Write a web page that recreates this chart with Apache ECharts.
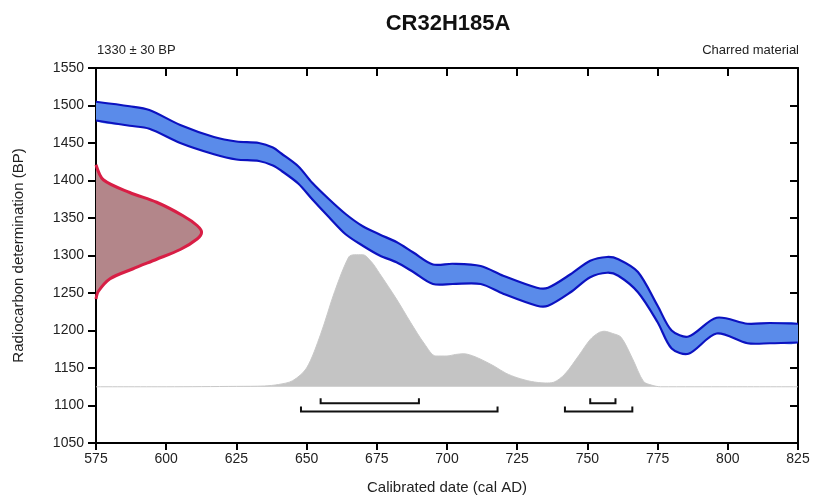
<!DOCTYPE html>
<html>
<head>
<meta charset="utf-8">
<title>CR32H185A</title>
<script src="https://cdn.jsdelivr.net/npm/echarts@6/dist/echarts.min.js"></script>
<style>
  html, body { margin: 0; padding: 0; background: #ffffff; }
  #chart { width: 814px; height: 500px; }
</style>
</head>
<body>
<div id="chart"></div>
<script>
// calibration curve (1 sigma band)
const curveYear = [575, 587, 594, 605, 617, 625, 633, 638, 641, 647, 652, 658, 664, 670, 676, 682, 688, 695, 702, 712, 720, 732, 736, 744, 751, 757, 761, 768, 775, 780, 786, 796, 807, 815, 825];
const curveUpper = [1505, 1499, 1494, 1474, 1458, 1452, 1450, 1444, 1436, 1419, 1397, 1375, 1355, 1339, 1328, 1318, 1304, 1288, 1289, 1286, 1273, 1257, 1257, 1275, 1293, 1298, 1295, 1278, 1233, 1200, 1192, 1217, 1209, 1210, 1209];
const curveLower = [1480, 1473, 1469, 1450, 1435, 1428, 1426, 1420, 1413, 1396, 1375, 1351, 1328, 1313, 1300, 1291, 1278, 1262, 1262, 1262, 1249, 1233, 1233, 1251, 1271, 1277, 1273, 1251, 1211, 1176, 1169, 1196, 1183, 1183, 1184];

// measured date (normal curve on the BP axis)
const measBP = [1421, 1401, 1384, 1371, 1353, 1340, 1331, 1322, 1308, 1295, 1282, 1269, 1252, 1242];
const measYear = [575, 577.6, 587, 596.6, 606, 611, 612.6, 611, 605, 596.6, 588, 580, 575.8, 575];

// calibrated probability (drawn up from a baseline of 1125 BP)
const probBase = 1125;
const probYear = [575, 600, 625, 635, 640, 645, 650, 655, 660, 665, 667, 670, 673, 676, 682, 687, 692, 696, 700, 703, 706, 710, 714, 717, 721, 725, 730, 735, 738, 742, 747, 751, 754, 756, 759, 762, 766, 770, 773, 776, 800, 825];
const probBP = [1125, 1125, 1125.5, 1126, 1128, 1133, 1150, 1195, 1252, 1298, 1301, 1301, 1292, 1276, 1242, 1211, 1182, 1166, 1166, 1168, 1169, 1165, 1158, 1152, 1143, 1137, 1132, 1130, 1131, 1142, 1167, 1188, 1197, 1199, 1196, 1191, 1163, 1132, 1127, 1125, 1125, 1125];

// calibrated ranges (68.2% upper row, 95.4% lower row)
const rangeStart = [655, 751, 648, 742];
const rangeEnd = [690, 760, 718, 766];
const rangeLevel = [1103, 1103, 1092, 1092];

const xTicks = { min: 575, max: 825, step: 25 };
const yTicks = { min: 1050, max: 1550, step: 50 };

const font = "'Liberation Sans', Arial, sans-serif";
const axisBlack = { color: '#000000', width: 2 };

// bounding box of a point list, keeps smoothed control points inside it
function bbox (pts) {
  let xs = pts.map(p => p[0]);
  let ys = pts.map(p => p[1]);
  return [[Math.min(...xs), Math.min(...ys)], [Math.max(...xs), Math.max(...ys)]];
}

let chart = echarts.init(document.getElementById('chart'), null, { renderer: 'canvas' });
chart.setOption({
  animation: false,
  backgroundColor: '#ffffff',
  textStyle: { fontFamily: font },
  graphic: [
    {
      type: 'text', x: 448, y: 24,
      style: { text: 'CR32H185A', font: 'bold 22px ' + font, fill: '#111111',
        align: 'center', verticalAlign: 'middle', textAlign: 'center', textVerticalAlign: 'middle' }
    },
    {
      type: 'text', x: 97, y: 50,
      style: { text: '1330 ± 30 BP', font: '13px ' + font, fill: '#222222',
        align: 'left', verticalAlign: 'middle', textAlign: 'left', textVerticalAlign: 'middle' }
    },
    {
      type: 'text', x: 799, y: 50,
      style: { text: 'Charred material', font: '13px ' + font, fill: '#222222',
        align: 'right', verticalAlign: 'middle', textAlign: 'right', textVerticalAlign: 'middle' }
    }
  ],
  grid: { left: 96, right: 16, top: 68, bottom: 55, containLabel: false },
  xAxis: [
    {
      type: 'value', position: 'bottom',
      min: xTicks.min, max: xTicks.max, interval: xTicks.step,
      name: 'Calibrated date (cal AD)', nameLocation: 'middle', nameGap: 37,
      nameTextStyle: { fontSize: 15, color: '#222222', fontFamily: font },
      axisLine: { lineStyle: axisBlack },
      axisTick: { inside: false, length: 7, lineStyle: axisBlack },
      axisLabel: { fontSize: 14, color: '#222222', margin: 9, fontFamily: font, formatter: v => String(v) },
      splitLine: { show: false }
    },
    {
      type: 'value', position: 'top',
      min: xTicks.min, max: xTicks.max, interval: xTicks.step,
      axisLine: { lineStyle: axisBlack },
      axisTick: { inside: true, length: 8, lineStyle: axisBlack },
      axisLabel: { show: false },
      splitLine: { show: false }
    }
  ],
  yAxis: [
    {
      type: 'value', position: 'left',
      min: yTicks.min, max: yTicks.max, interval: yTicks.step,
      name: 'Radiocarbon determination (BP)', nameLocation: 'middle', nameGap: 70,
      nameTextStyle: { fontSize: 15, color: '#222222', fontFamily: font },
      axisLine: { lineStyle: axisBlack },
      axisTick: { inside: false, length: 8, lineStyle: axisBlack },
      axisLabel: { fontSize: 14, color: '#222222', margin: 12, fontFamily: font, formatter: v => String(v) },
      splitLine: { show: false }
    },
    {
      type: 'value', position: 'right',
      min: yTicks.min, max: yTicks.max, interval: yTicks.step,
      axisLine: { lineStyle: axisBlack },
      axisTick: { inside: true, length: 8, lineStyle: axisBlack },
      axisLabel: { show: false },
      splitLine: { show: false }
    }
  ],
  series: [
    {
      name: 'probability',
      type: 'line',
      showSymbol: false,
      smooth: 0.3,
      lineStyle: { color: '#c8c8c8', width: 1 },
      areaStyle: { color: '#c4c4c4', opacity: 1, origin: probBase },
      data: probYear.map((x, i) => [x, probBP[i]]),
      z: 1
    },
    {
      // calibration band: filled polygon between the two edges, then the edges
      name: 'curve',
      type: 'custom',
      data: curveYear.map((x, i) => [x, curveUpper[i], curveLower[i]]),
      encode: { x: 0, y: [1, 2] },
      z: 2,
      renderItem: function (params, api) {
        if (params.dataIndex !== 0) return null;
        let up = curveYear.map((x, i) => api.coord([x, curveUpper[i]]));
        let low = curveYear.map((x, i) => api.coord([x, curveLower[i]]));
        let ring = up.concat(low.slice().reverse());
        return {
          type: 'group',
          children: [
            { type: 'polygon', shape: { points: ring, smooth: 0.3, smoothConstraint: bbox(ring) },
              style: { fill: '#5a8bea' } },
            { type: 'polyline', shape: { points: up, smooth: 0.3 }, style: { stroke: '#0c12c0', lineWidth: 2.2, fill: null } },
            { type: 'polyline', shape: { points: low, smooth: 0.3 }, style: { stroke: '#0c12c0', lineWidth: 2.2, fill: null } }
          ]
        };
      }
    },
    {
      name: 'measurement',
      type: 'custom',
      data: measYear.map((x, i) => [x, measBP[i]]),
      encode: { x: 0, y: 1 },
      z: 4,
      renderItem: function (params, api) {
        if (params.dataIndex !== 0) return null;
        let pts = measYear.map((x, i) => api.coord([x, measBP[i]]));
        return {
          type: 'group',
          children: [
            { type: 'polygon', shape: { points: pts, smooth: 0.3, smoothConstraint: bbox(pts) }, style: { fill: '#b3868a' } },
            { type: 'polyline', shape: { points: pts, smooth: 0.3 }, style: { stroke: '#d81e45', lineWidth: 3, fill: null } }
          ]
        };
      }
    },
    {
      name: 'ranges',
      type: 'custom',
      data: rangeStart.map((s, i) => [s, rangeEnd[i], rangeLevel[i]]),
      encode: { x: [0, 1], y: 2 },
      z: 4,
      renderItem: function (params, api) {
        let a = api.coord([api.value(0), api.value(2)]);
        let b = api.coord([api.value(1), api.value(2)]);
        return {
          type: 'polyline',
          shape: { points: [[a[0], a[1] - 5], a, b, [b[0], b[1] - 5]] },
          style: { stroke: '#111111', lineWidth: 2, fill: null }
        };
      }
    }
  ]
});
</script>
</body>
</html>
